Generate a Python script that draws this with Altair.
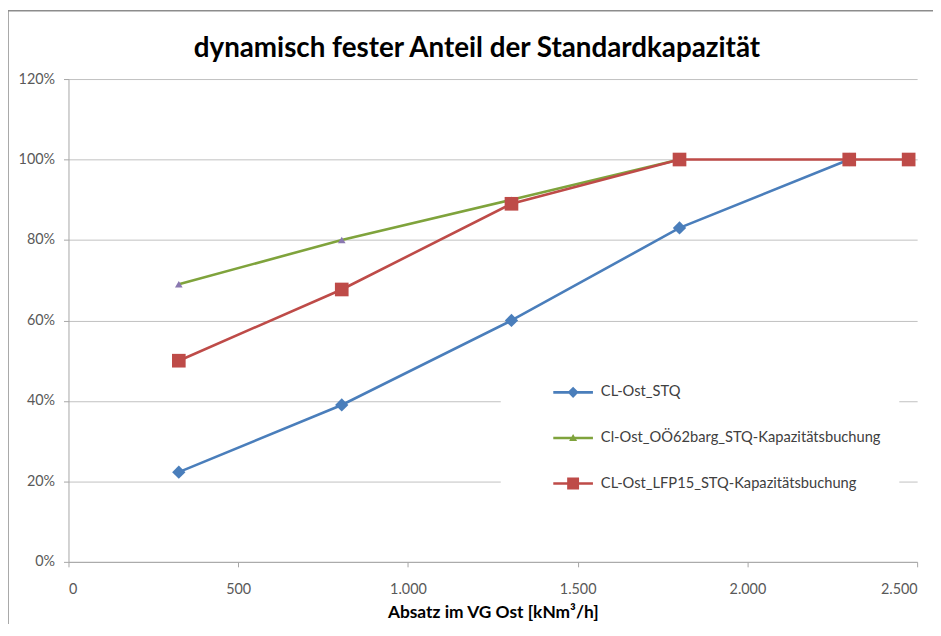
import altair as alt
import pandas as pd

# ---- data ----
x_vals = [325, 805, 1305, 1800, 2300, 2475]
stq = [0.223, 0.39, 0.60, 0.83, 1.00]
oo62 = [0.69, 0.80, 0.90, 1.00]
lfp15 = [0.50, 0.677, 0.89, 1.00, 1.00, 1.00]
series_names = [
    "CL-Ost_STQ",
    "Cl-Ost_OÖ62barg_STQ-Kapazitätsbuchung",
    "CL-Ost_LFP15_STQ-Kapazitätsbuchung",
]
colors = ["#4A7EBB", "#7FA33C", "#BE4B48"]
y_ticks = [0, 0.2, 0.4, 0.6, 0.8, 1.0, 1.2]
x_ticks = [0, 500, 1000, 1500, 2000, 2500]
chart_title = "dynamisch fester Anteil der Standardkapazität"

FONT = "Lato"

rows = []
for name, vals in zip(series_names, [stq, oo62, lfp15]):
    for xv, yv in zip(x_vals, vals):
        rows.append({"series": name, "x": xv, "y": yv})
df = pd.DataFrame(rows)

color_scale = alt.Scale(domain=series_names, range=colors)

xenc = alt.X(
    "x:Q",
    scale=alt.Scale(domain=[0, 2500], nice=False),
    axis=alt.Axis(
        values=x_ticks,
        labelExpr="replace(format(datum.value, ','), ',', '.')",
        grid=False,
        title="Absatz im VG Ost [kNm³/h]",
    ),
)
yenc = alt.Y(
    "y:Q",
    scale=alt.Scale(domain=[0, 1.2], nice=False),
    axis=alt.Axis(values=y_ticks, format=".0%", grid=True, title=None),
)

base = alt.Chart(df)

# decorative chart frame
frame = alt.Chart(pd.DataFrame({"a": [0]})).mark_rect(
    fill="transparent", stroke="#8c8c8c", strokeWidth=1.5, clip=False
).encode(
    x=alt.value(-61), y=alt.value(-69), x2=alt.value(1000), y2=alt.value(700)
)

# chart title (as a text mark so the frame does not push it out of view)
title = alt.Chart(pd.DataFrame({"t": [chart_title]})).mark_text(
    font=FONT, fontSize=28, fontWeight="bold", color="#000000",
    align="center", baseline="alphabetic",
).encode(x=alt.value(412), y=alt.value(-22), text="t:N")

# legend symbols: line segment + marker (unit path, scaled by sqrt(size)/2)
LINE = "M-1,-0.065L1,-0.065L1,0.065L-1,0.065Z"
legend_paths = [
    LINE + "M0,-0.28L0.28,0L0,0.28L-0.28,0Z",
    LINE + "M0,-0.2L0.2,0.15L-0.2,0.15Z",
    LINE + "M-0.3,-0.3L0.3,-0.3L0.3,0.3L-0.3,0.3Z",
]
leg = dict(
    orient="none", legendX=436, legendY=278, title=None,
    fillColor="white", padding=18, symbolSize=1600, symbolStrokeWidth=0,
    symbolOffset=35, labelOffset=8, rowPadding=19, labelLimit=500,
    labelExpr="datum.label + '          '",
    labelFont=FONT, labelFontSize=14.8, labelColor="#404040",
)
legend_layer = base.transform_filter("false").mark_point(filled=True, opacity=1).encode(
    x=xenc, y=yenc,
    color=alt.Color("series:N", scale=color_scale, legend=alt.Legend(**leg)),
    shape=alt.Shape("series:N", scale=alt.Scale(domain=series_names, range=legend_paths),
                    legend=alt.Legend(**leg)),
)

layers = [frame, title, legend_layer]
marker_shapes = ["diamond", "triangle-up", "square"]
marker_sizes = [180, 60, 190]
marker_fill = [None, "#8a78b0", None]
for name, shp, sz, mf in zip(series_names, marker_shapes, marker_sizes, marker_fill):
    sub = base.transform_filter(alt.datum.series == name)
    line = sub.mark_line(strokeWidth=2.6).encode(
        x=xenc, y=yenc,
        color=alt.Color("series:N", scale=color_scale),
    )
    if mf is None:
        pts = sub.mark_point(shape=shp, size=sz, filled=True, opacity=1).encode(
            x=xenc, y=yenc,
            color=alt.Color("series:N", scale=color_scale),
        )
    else:
        pts = sub.mark_point(shape=shp, size=sz, filled=True, opacity=1, color=mf).encode(
            x=xenc, y=yenc,
        )
    layers += [line, pts]

chart = alt.layer(*layers).properties(
    width=856,
    height=487,
    autosize=alt.AutoSizeParams(type="none"),
    padding={"left": 61, "top": 69, "right": 16, "bottom": 60},
).configure_view(stroke=None).configure_axis(
    labelFont=FONT, labelFontSize=14.5, labelColor="#595959",
    titleFont=FONT, titleFontSize=17.5, titleFontWeight="bold", titleColor="#000000",
    domainColor="#a6a6a6", tickColor="#a6a6a6", tickSize=5,
    gridColor="#c0c0c0", gridWidth=1,
).configure_axisX(labelPadding=16, titlePadding=8).configure_axisY(labelPadding=9)

chart.save("out.html", embed_options={"renderer": "svg", "actions": False})
